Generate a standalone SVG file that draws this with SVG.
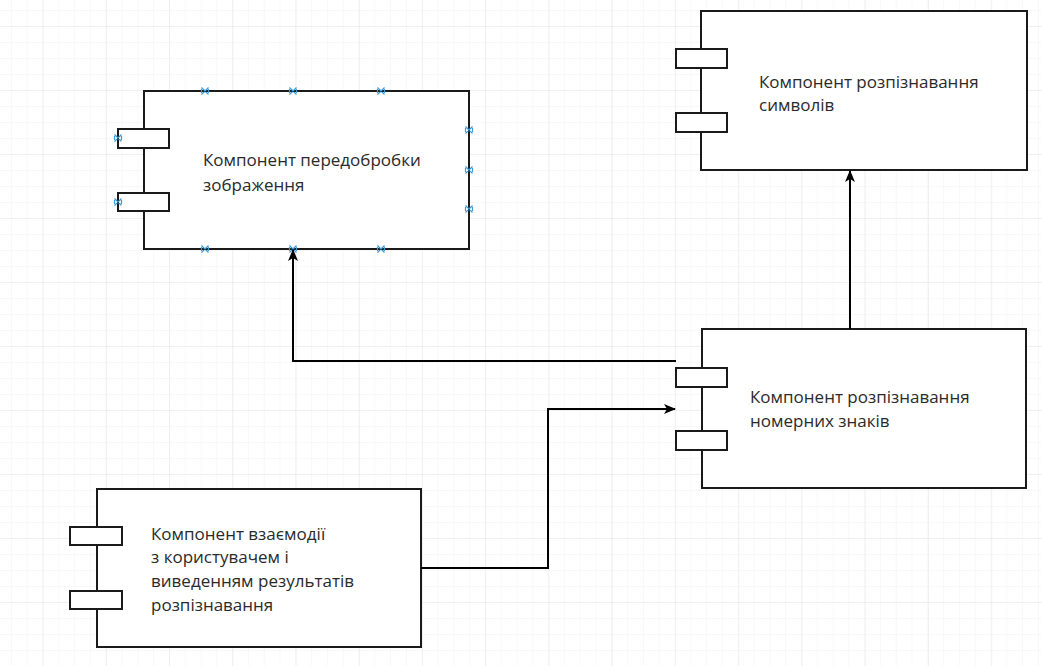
<svg xmlns="http://www.w3.org/2000/svg" width="1042" height="666" viewBox="0 0 1042 666">
<defs>
<pattern id="minor" x="42.5" y="26" width="15.8" height="16" patternUnits="userSpaceOnUse">
<path d="M0 0H15.8M0 0V16" fill="none" stroke="#f2f2f2" stroke-width="1"/>
</pattern>
<pattern id="major" x="42.5" y="26" width="63.25" height="64" patternUnits="userSpaceOnUse">
<path d="M0 0H63.25M0 0V64" fill="none" stroke="#e6e6e6" stroke-width="1"/>
</pattern>
<marker id="arrow" viewBox="0 0 12 10" refX="11" refY="5" markerWidth="12" markerHeight="10" markerUnits="userSpaceOnUse" orient="auto">
<path d="M0 0L12 5L0 10L3 5Z" fill="#000"/>
</marker>
<path id="xm" d="M-3.5 -3.5L3.5 3.5M-3.5 3.5L3.5 -3.5M-3.5 -2V2M3.5 -2V2" fill="none" stroke="#3f9ad4" stroke-width="1.2"/>
</defs>
<style>
.box{fill:#fff;stroke:#1a1a1a;stroke-width:2}
.port{fill:#fff;stroke:#1a1a1a;stroke-width:2}
.lbl{font-family:"Open Sans","Liberation Sans",sans-serif;font-size:17px;fill:#2a2a2a}
.conn{fill:none;stroke:#000;stroke-width:2}
</style>
<rect width="1042" height="666" fill="#fff"/>
<rect width="1042" height="666" fill="url(#minor)"/>
<rect width="1042" height="666" fill="url(#major)"/>

<g id="node-preprocess">
<rect class="box" x="144" y="91" width="325" height="158"/>
<rect class="port" x="118" y="129" width="51" height="19"/>
<rect class="port" x="118" y="193" width="51" height="18"/>
<text class="lbl" x="203" y="166">Компонент передобробки</text>
<text class="lbl" x="203" y="191">зображення</text>
<use href="#xm" x="205" y="91"/>
<use href="#xm" x="293" y="91"/>
<use href="#xm" x="381" y="91"/>
<use href="#xm" x="205" y="249"/>
<use href="#xm" x="293" y="249"/>
<use href="#xm" x="381" y="249"/>
<use href="#xm" x="469" y="130"/>
<use href="#xm" x="469" y="170"/>
<use href="#xm" x="469" y="209"/>
<use href="#xm" x="118" y="138"/>
<use href="#xm" x="118" y="202"/>
</g>

<g id="node-symbols">
<rect class="box" x="701" y="11" width="326" height="159"/>
<rect class="port" x="676" y="49" width="51" height="19"/>
<rect class="port" x="676" y="113" width="51" height="19"/>
<text class="lbl" x="759" y="88">Компонент розпізнавання</text>
<text class="lbl" x="759" y="111">символів</text>
</g>

<g id="node-plates">
<rect class="box" x="702" y="329" width="324" height="159"/>
<rect class="port" x="676" y="368" width="51" height="19"/>
<rect class="port" x="676" y="431" width="51" height="19"/>
<text class="lbl" x="750" y="403">Компонент розпізнавання</text>
<text class="lbl" x="750" y="427">номерних знаків</text>
</g>

<g id="node-ui">
<rect class="box" x="97" y="489" width="324" height="158"/>
<rect class="port" x="70" y="527" width="52" height="18"/>
<rect class="port" x="70" y="591" width="52" height="18"/>
<text class="lbl" x="151" y="540">Компонент взаємодії</text>
<text class="lbl" x="151" y="563">з користувачем і</text>
<text class="lbl" x="151" y="587">виведенням результатів</text>
<text class="lbl" x="151" y="611">розпізнавання</text>
</g>

<g id="connectors">
<path class="conn" d="M850 329V171" marker-end="url(#arrow)"/>
<path class="conn" d="M676 361H293V250" marker-end="url(#arrow)"/>
<path class="conn" d="M421 568H548V409H675" marker-end="url(#arrow)"/>
</g>
</svg>
